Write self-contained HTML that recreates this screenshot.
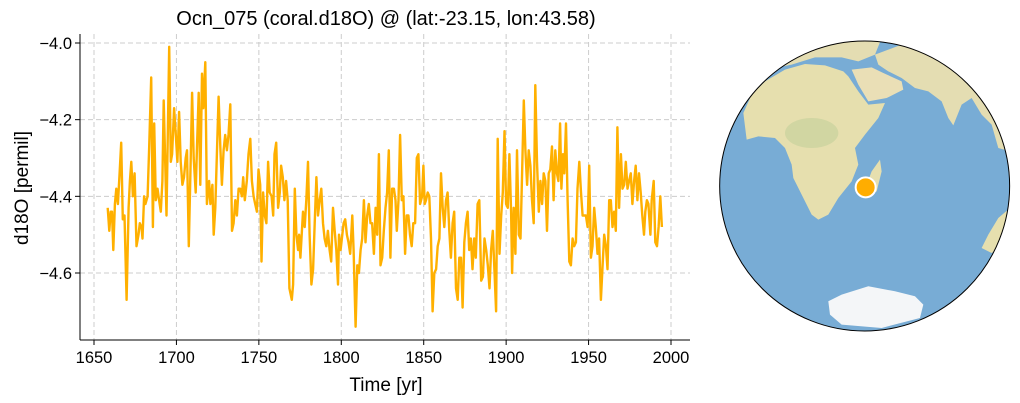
<!DOCTYPE html>
<html><head><meta charset="utf-8"><style>
body{margin:0;background:#fff;width:1020px;height:403px;overflow:hidden;font-family:"Liberation Sans",Arial,sans-serif}
svg{position:absolute;left:0;top:0}
</style></head><body>
<svg id="chart" width="1020" height="403" viewBox="0 0 1020 403" font-family="Liberation Sans, Arial, sans-serif">
<text x="386" y="25" font-size="20" text-anchor="middle" fill="#000">Ocn_075 (coral.d18O) @ (lat:-23.15, lon:43.58)</text>
<g id="grid"></g>
<g id="axes"></g>
<text transform="translate(28,188) rotate(-90)" font-size="19" text-anchor="middle">d18O [permil]</text>
<text x="386" y="391" font-size="19" text-anchor="middle">Time [yr]</text>
<g id="series"></g>
<g transform="translate(715,38) scale(0.3333)">
<defs><clipPath id="gc"><circle cx="449" cy="444" r="435"/></clipPath></defs>
<circle cx="449" cy="444" r="435" fill="#78acd5"/>
<g clip-path="url(#gc)">
<polygon fill="#e4ddb2" points="180,90 260,45 400,5 500,0 480,50 430,70 380,58 300,58 230,80"/>
<polygon fill="#e4ddb2" points="480,50 560,20 640,40 720,70 790,120 840,200 870,280 885,340 850,330 830,260 800,230 770,180 740,200 715,262 700,240 680,190 640,160 600,150 560,120 520,100 490,80"/>
<polygon fill="#eadfb6" points="410,95 470,88 505,105 560,130 565,155 515,180 460,190 430,140"/>
<polygon fill="#e6dfae" points="95,305 85,225 110,170 150,130 210,95 270,78 330,82 385,100 400,115 430,160 460,200 510,195 490,240 450,290 420,330 430,380 410,430 370,480 340,530 310,545 290,530 260,470 235,420 230,380 210,330 180,300 130,295"/>
<ellipse cx="290" cy="285" rx="80" ry="45" fill="#c7d29c" opacity="0.7"/>
<polygon fill="#e6dfae" points="495,365 500,400 485,460 465,470 455,440 470,400"/>
<polygon fill="#e6dfae" points="885,510 850,540 820,590 800,630 830,645 870,620 890,580"/>
<polygon fill="#f4f6f8" points="340,790 380,770 460,745 540,760 600,775 625,800 615,840 500,870 380,860 345,830"/>
</g>
<circle cx="449" cy="444" r="435" fill="none" stroke="#000" stroke-width="3"/>
<circle cx="452" cy="448" r="30" fill="#ffad00" stroke="#fff" stroke-width="6"/>
</g>
</svg>
<script>
const years=[1658.3,1659.3,1660.1,1660.9,1661.7,1662.7,1663.5,1664.5,1665.5,1666.5,1667.5,1668.5,1669.8,1671.0,1671.8,1672.6,1673.6,1674.6,1675.8,1677.0,1677.8,1678.8,1679.4,1680.4,1681.2,1682.5,1683.5,1684.7,1685.7,1686.5,1687.5,1688.5,1689.5,1690.5,1691.5,1692.3,1694.0,1695.6,1696.6,1697.4,1698.6,1699.6,1700.6,1701.6,1702.6,1703.6,1704.6,1705.6,1706.4,1707.5,1708.5,1709.5,1710.5,1711.7,1712.5,1713.5,1714.5,1715.5,1716.3,1717.5,1718.5,1719.8,1720.6,1721.8,1722.6,1723.6,1724.6,1725.6,1726.6,1727.6,1728.6,1729.6,1730.6,1731.6,1732.7,1733.7,1734.7,1735.7,1736.7,1737.7,1738.7,1739.7,1740.5,1741.5,1742.7,1743.7,1744.8,1745.8,1746.8,1747.8,1748.8,1749.8,1750.8,1751.6,1752.6,1753.6,1754.6,1755.6,1756.6,1757.7,1758.7,1759.5,1760.5,1761.7,1762.7,1763.5,1764.5,1765.5,1766.5,1767.5,1768.5,
1770.0,1770.8,1771.8,1772.8,1773.8,1774.4,1775.2,1776.0,1776.8,1777.8,1778.8,1779.8,1780.8,1781.9,1782.9,1783.9,1784.9,1785.9,1786.9,1787.9,1788.9,1789.9,1790.9,1791.9,1792.9,1793.9,1795.0,1796.0,1797.0,1798.0,1798.6,1799.6,1800.6,1801.4,1802.4,1803.4,1804.4,1805.4,1806.7,1807.5,1808.7,1809.7,1810.7,1811.7,1812.7,1813.7,1814.7,1815.7,1816.7,1817.7,1818.7,1819.8,1820.8,1821.8,1822.8,1823.8,1824.8,1825.8,1826.8,1827.8,1828.8,1829.8,1830.8,1831.9,1832.9,1833.7,1834.7,1835.7,1836.7,1837.7,1838.7,1839.7,1840.7,1841.7,1842.7,1843.7,1844.8,1845.8,1846.8,1847.8,1849.0,1849.8,1850.6,1851.4,1852.4,1853.4,1854.4,1855.4,1856.4,1857.5,1858.5,1859.5,1860.5,1861.5,1862.5,1863.5,1864.5,1865.5,1866.5,1867.5,1868.5,1869.6,1870.6,1871.6,1872.6,1873.6,1874.6,1875.6,1876.6,1877.6,1878.6,1879.6,1880.6,1881.6,1882.7,1883.7,
1884.9,1885.9,1886.9,1887.9,1888.9,1889.9,1890.9,1891.9,1892.9,1893.9,1894.9,1896.0,1897.0,1898.0,1899.0,1900.0,1901.0,1902.0,1903.0,1903.6,1904.6,1905.6,1906.6,1907.7,1908.7,1909.7,1910.7,1911.7,1912.7,1913.7,1914.7,1915.7,1916.7,1917.7,1918.7,1919.8,1920.8,1921.8,1922.8,1923.8,1924.8,1925.8,1926.8,1927.8,1928.8,1929.8,1930.8,1931.7,1932.7,1933.5,1934.5,1935.3,1936.3,1937.3,1938.3,1939.3,1940.3,1941.3,1942.3,1943.3,1944.4,1945.4,1946.4,1947.4,1948.4,1949.4,1950.4,1951.4,1952.4,1953.4,1954.4,1955.4,1956.4,1957.5,1958.5,1959.5,1960.5,1961.5,1962.5,1963.5,1964.5,1965.5,1966.5,1967.5,1968.5,1969.6,1970.6,1971.6,1972.6,1973.6,1974.6,1975.6,1976.6,1977.6,1978.6,1979.6,1980.6,1981.6,1982.6,1983.6,1984.4,1985.4,1986.3,1987.5,1988.3,1989.5,1990.5,1991.5,1992.5,1993.5,1994.5];
const d18O=[-4.43,-4.49,-4.44,-4.44,-4.54,-4.42,-4.38,-4.42,-4.34,-4.26,-4.46,-4.45,-4.67,-4.43,-4.36,-4.31,-4.40,-4.34,-4.53,-4.50,-4.47,-4.48,-4.51,-4.40,-4.42,-4.40,-4.27,-4.09,-4.48,-4.21,-4.41,-4.38,-4.41,-4.44,-4.36,-4.15,-4.45,-4.01,-4.31,-4.29,-4.17,-4.24,-4.31,-4.18,-4.31,-4.37,-4.35,-4.30,-4.28,-4.53,-4.34,-4.13,-4.30,-4.39,-4.27,-4.13,-4.37,-4.08,-4.17,-4.05,-4.42,-4.36,-4.42,-4.37,-4.50,-4.43,-4.28,-4.14,-4.27,-4.37,-4.28,-4.24,-4.28,-4.24,-4.16,-4.49,-4.47,-4.41,-4.45,-4.38,-4.38,-4.40,-4.35,-4.41,-4.36,-4.29,-4.25,-4.36,-4.40,-4.42,-4.44,-4.33,-4.37,-4.57,-4.39,-4.45,-4.47,-4.31,-4.39,-4.40,-4.45,-4.29,-4.26,-4.43,-4.39,-4.32,-4.35,-4.41,-4.36,-4.41,-4.64,
-4.67,-4.63,-4.38,-4.50,-4.54,-4.50,-4.56,-4.50,-4.44,-4.48,-4.41,-4.31,-4.50,-4.63,-4.59,-4.47,-4.35,-4.45,-4.41,-4.38,-4.47,-4.51,-4.53,-4.49,-4.54,-4.57,-4.43,-4.49,-4.54,-4.63,-4.50,-4.54,-4.50,-4.47,-4.46,-4.50,-4.52,-4.55,-4.45,-4.54,-4.74,-4.58,-4.60,-4.54,-4.51,-4.41,-4.52,-4.45,-4.42,-4.47,-4.47,-4.55,-4.43,-4.50,-4.29,-4.58,-4.56,-4.49,-4.43,-4.39,-4.28,-4.56,-4.38,-4.38,-4.41,-4.49,-4.41,-4.24,-4.41,-4.40,-4.55,-4.45,-4.45,-4.50,-4.53,-4.47,-4.47,-4.30,-4.29,-4.42,-4.40,-4.32,-4.42,-4.41,-4.39,-4.40,-4.51,-4.70,-4.60,-4.59,-4.53,-4.51,-4.34,-4.43,-4.48,-4.41,-4.39,-4.49,-4.56,-4.47,-4.44,-4.64,-4.67,-4.56,-4.56,-4.69,-4.52,-4.47,-4.44,-4.54,-4.51,-4.59,-4.51,-4.56,-4.42,-4.41,
-4.62,-4.61,-4.51,-4.54,-4.58,-4.64,-4.54,-4.49,-4.59,-4.70,-4.25,-4.55,-4.45,-4.39,-4.23,-4.42,-4.43,-4.29,-4.44,-4.60,-4.43,-4.55,-4.28,-4.50,-4.51,-4.34,-4.15,-4.28,-4.37,-4.28,-4.32,-4.41,-4.47,-4.11,-4.31,-4.44,-4.36,-4.42,-4.34,-4.36,-4.49,-4.34,-4.33,-4.27,-4.41,-4.28,-4.34,-4.36,-4.21,-4.38,-4.29,-4.34,-4.21,-4.41,-4.57,-4.58,-4.51,-4.53,-4.52,-4.38,-4.31,-4.39,-4.45,-4.45,-4.45,-4.48,-4.32,-4.56,-4.53,-4.43,-4.48,-4.55,-4.51,-4.67,-4.58,-4.50,-4.53,-4.59,-4.41,-4.41,-4.48,-4.44,-4.49,-4.22,-4.43,-4.29,-4.38,-4.37,-4.31,-4.38,-4.36,-4.34,-4.42,-4.36,-4.32,-4.41,-4.34,-4.39,-4.45,-4.50,-4.44,-4.41,-4.42,-4.50,-4.41,-4.36,-4.52,-4.53,-4.48,-4.40,-4.48];
const xTicks=[1650,1700,1750,1800,1850,1900,1950,2000];
const yTicks=[-4.0,-4.2,-4.4,-4.6];
const NS='http://www.w3.org/2000/svg';
const L=80,R=690,T=34,B=340;
const xs=v=>94+(v-1650)*(577/350);
const ys=v=>43+(-4.0-v)*(230/0.6);
function mk(tag,attrs,parent){const e=document.createElementNS(NS,tag);for(const k in attrs)e.setAttribute(k,attrs[k]);parent.appendChild(e);return e;}
const grid=document.getElementById('grid'),axes=document.getElementById('axes'),series=document.getElementById('series');
xTicks.forEach(t=>{
  const x=xs(t);
  const g=mk('line',{x1:x,x2:x,y1:T,y2:B,stroke:'#cccccc','stroke-dasharray':'5,3','stroke-width':1},grid);
  
  
  const tk=mk('line',{x1:x,x2:x,y1:B,y2:B+5,stroke:'#000','stroke-width':1},axes);
  
  
  const lb=mk('text',{x:x,y:B+23,'font-size':16.5,'text-anchor':'middle'},axes);
  
  
  lb.textContent=t;
});
yTicks.forEach(t=>{
  const y=ys(t);
  const g=mk('line',{x1:L,x2:R,y1:y,y2:y,stroke:'#cccccc','stroke-dasharray':'5,3','stroke-width':1},grid);
  
  
  const tk=mk('line',{x1:L-5,x2:L,y1:y,y2:y,stroke:'#000','stroke-width':1},axes);
  
  
  const lb=mk('text',{x:L-8,y:y+6,'font-size':16.5,'text-anchor':'end'},axes);
  
  
  lb.textContent='\u2212'+Math.abs(t).toFixed(1);
});
const ls=mk('line',{x1:L,x2:L,y1:T,y2:B,stroke:'#000','stroke-width':1},axes);


const bs=mk('line',{x1:L,x2:R,y1:B,y2:B,stroke:'#000','stroke-width':1},axes);


const pts=years.map((y,i)=>xs(y).toFixed(1)+','+ys(d18O[i]).toFixed(1)).join(' ');
const pl=mk('polyline',{points:pts,fill:'none',stroke:'#ffb000','stroke-width':2.4,'stroke-linejoin':'round'},series);


</script>
</body></html>
